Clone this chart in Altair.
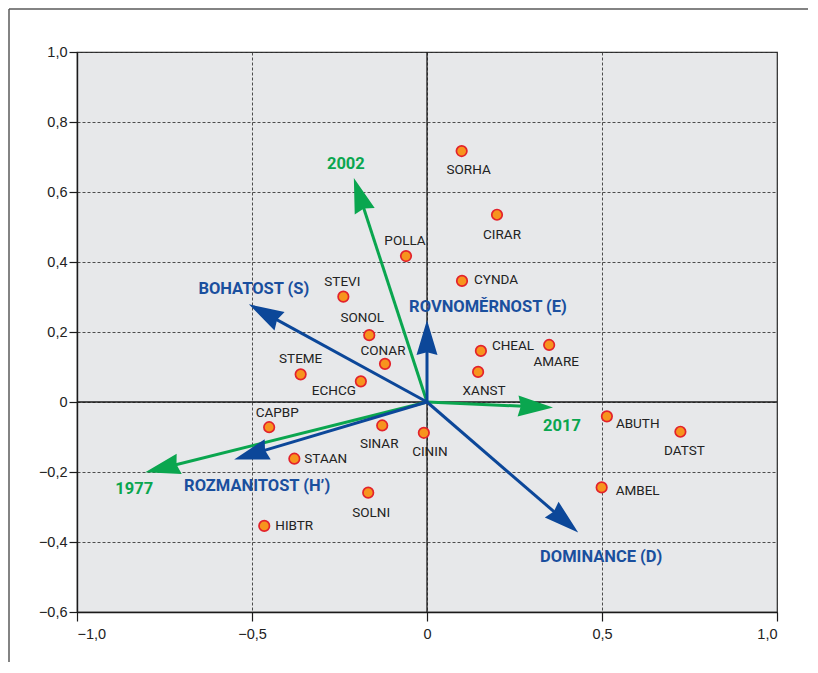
import altair as alt
import numpy as np
import pandas as pd

# ---------------- data ----------------
species = ["SORHA", "CIRAR", "POLLA", "CYNDA", "STEVI", "SONOL", "CONAR",
           "CHEAL", "AMARE", "STEME", "ECHCG", "XANST", "CAPBP", "SINAR",
           "CININ", "STAAN", "SOLNI", "HIBTR", "ABUTH", "DATST", "AMBEL"]
sp_x = [0.099, 0.200, -0.060, 0.100, -0.239, -0.165, -0.120,
        0.154, 0.349, -0.361, -0.189, 0.146, -0.451, -0.128,
        -0.009, -0.379, -0.168, -0.465, 0.514, 0.724, 0.499]
sp_y = [0.717, 0.535, 0.417, 0.346, 0.301, 0.191, 0.109,
        0.146, 0.163, 0.079, 0.059, 0.086, -0.072, -0.067,
        -0.088, -0.162, -0.259, -0.354, -0.041, -0.085, -0.244]

vec_names = ["2002", "1977", "2017", "BOHATOST (S)", "ROVNOMĚRNOST (E)",
             "ROZMANITOST (H’)", "DOMINANCE (D)"]
vec_x = [-0.209, -0.805, 0.360, -0.509, 0.000, -0.551, 0.432]
vec_y = [0.640, -0.201, -0.016, 0.279, 0.234, -0.164, -0.373]
vec_group = ["year", "year", "year", "index", "index", "index", "index"]

x_ticks = [-1.0, -0.5, 0.0, 0.5, 1.0]
y_ticks = [-0.6, -0.4, -0.2, 0.0, 0.2, 0.4, 0.6, 0.8, 1.0]

# ---------------- layout / style ----------------
GREEN = "#0aa64f"
BLUE = "#0c4799"
BLUE_TXT = "#1a4f9e"
PT_FILL = "#f7941d"
PT_STROKE = "#e3222b"
NARROW = "Roboto"
REG = "Liberation Sans"
W, H = 700, 560
PX = W / 2.0  # pixels per unit

# label placement (pixel offsets from the point, alignment)
sp_label = {
    "SORHA": (7, 19, "center"), "CIRAR": (5, 20, "center"),
    "POLLA": (-1, -15, "center"), "CYNDA": (12, -1, "left"),
    "STEVI": (-1, -15, "center"), "SONOL": (-7, -17, "center"),
    "CONAR": (-2, -13, "center"), "CHEAL": (11, -5, "left"),
    "AMARE": (7, 17, "center"), "STEME": (0, -15, "center"),
    "ECHCG": (-27, 10, "center"), "XANST": (6, 19, "center"),
    "CAPBP": (8, -14, "center"), "SINAR": (-3, 19, "center"),
    "CININ": (6, 19, "center"), "STAAN": (10, 0, "left"),
    "SOLNI": (3, 20, "center"), "HIBTR": (11, 0, "left"),
    "ABUTH": (9, 8, "left"), "DATST": (4, 19, "center"),
    "AMBEL": (14, 4, "left"),
}
vec_label = {
    "2002": (-8, -14), "1977": (-11, 17), "2017": (9, 18),
    "BOHATOST (S)": (5, -15), "ROVNOMĚRNOST (E)": (61, -13),
    "ROZMANITOST (H’)": (23, 27), "DOMINANCE (D)": (23, 24),
}

# ---------------- tables ----------------
pts = pd.DataFrame({"name": species, "x": sp_x, "y": sp_y})

vx = np.array(vec_x)
vy = np.array(vec_y)
length_px = np.hypot(vx, vy) * PX
shrink = 1 - 14.0 / length_px
vec = pd.DataFrame({
    "name": vec_names,
    "x": vx, "y": vy,
    "x0": np.zeros(len(vx)), "y0": np.zeros(len(vx)),
    "xe": vx * shrink, "ye": vy * shrink,
    "ang": (np.degrees(np.arctan2(vx, vy)) + 360) % 360,
    "col": [GREEN if g == "year" else BLUE for g in vec_group],
    "tcol": [GREEN if g == "year" else BLUE_TXT for g in vec_group],
})

xscale = alt.Scale(domain=[-1, 1], nice=False, zero=False)
yscale = alt.Scale(domain=[-0.6, 1.0], nice=False, zero=False)

label_expr = "datum.value == 0 ? '0' : replace(format(datum.value, '.1f'), '.', ',')"
xaxis = alt.Axis(values=x_ticks, labelExpr=label_expr, title="", grid=True,
                 tickSize=9, labelPadding=6, domain=True)
yaxis = alt.Axis(values=y_ticks, labelExpr=label_expr, title="", grid=True,
                 tickSize=8, labelPadding=2, domain=True)

X = alt.X("x:Q", scale=xscale, axis=xaxis)
Y = alt.Y("y:Q", scale=yscale, axis=yaxis)

base_axes = alt.Chart(pts).mark_point(opacity=0).encode(x=X, y=Y)

zero_df = pd.DataFrame({"z": [0.0]})
zero_v = alt.Chart(zero_df).mark_rule(color="#1a1a1a", strokeWidth=1.3).encode(
    x=alt.X("z:Q", scale=xscale))
zero_h = alt.Chart(zero_df).mark_rule(color="#1a1a1a", strokeWidth=1.3).encode(
    y=alt.Y("z:Q", scale=yscale))

shafts = alt.Chart(vec).mark_rule(strokeWidth=3).encode(
    x=alt.X("x0:Q", scale=xscale), y=alt.Y("y0:Q", scale=yscale),
    x2="xe:Q", y2="ye:Q",
    color=alt.Color("col:N", scale=None))

ARROW = "M0,0 L0.3,1 L0,0.92 L-0.3,1 Z"
heads = alt.Chart(vec).mark_point(shape=ARROW, filled=True, size=4900,
                                  opacity=1, strokeWidth=0).encode(
    x=alt.X("x:Q", scale=xscale), y=alt.Y("y:Q", scale=yscale),
    angle=alt.Angle("ang:Q", scale=None),
    color=alt.Color("col:N", scale=None))

dots = alt.Chart(pts).mark_point(filled=True, size=110, fill=PT_FILL,
                                 stroke=PT_STROKE, strokeWidth=1.7,
                                 opacity=1).encode(
    x=alt.X("x:Q", scale=xscale), y=alt.Y("y:Q", scale=yscale))

layers = [base_axes, zero_v, zero_h, shafts, heads, dots]

for nm, (dx, dy, al) in sp_label.items():
    layers.append(
        alt.Chart(pts).transform_filter(alt.datum.name == nm).mark_text(
            dx=dx, dy=dy, align=al, baseline="middle", font=NARROW,
            fontSize=13.5, color="#222222").encode(
            x=alt.X("x:Q", scale=xscale), y=alt.Y("y:Q", scale=yscale),
            text="name:N"))

for nm, (dx, dy) in vec_label.items():
    layers.append(
        alt.Chart(vec).transform_filter(alt.datum.name == nm).mark_text(
            dx=dx, dy=dy, align="center", baseline="middle", font=NARROW,
            fontSize=16.5, fontWeight="bold").encode(
            x=alt.X("x:Q", scale=xscale), y=alt.Y("y:Q", scale=yscale),
            text="name:N", color=alt.Color("tcol:N", scale=None)))

# outer frame of the figure
frame_df = pd.DataFrame({"a": [0]})
frame_left = alt.Chart(frame_df).mark_rule(color="#5a5a5a", strokeWidth=1.5).encode(
    x=alt.value(-68), y=alt.value(-43), y2=alt.value(H + 60))
frame_top = alt.Chart(frame_df).mark_rule(color="#5a5a5a", strokeWidth=1.5).encode(
    x=alt.value(-68), x2=alt.value(W + 40), y=alt.value(-43))
layers += [frame_left, frame_top]

chart = alt.layer(*layers).properties(
    width=W, height=H,
    autosize=alt.AutoSizeParams(type="none"),
    padding={"left": 69, "top": 44, "right": 31, "bottom": 50},
    background="white",
).configure_view(
    fill="#e7e8ea", stroke="#2a2a2a", strokeWidth=1.2
).configure_axis(
    gridColor="#3a3a3a", gridDash=[3, 2], gridWidth=0.9, gridOpacity=1,
    domainColor="#1a1a1a", domainWidth=1.4,
    tickColor="#1a1a1a", tickWidth=1.2,
    labelFont=REG, labelFontSize=14.5,
    labelColor="#222222",
)

chart.save("out.html", embed_options={"renderer": "svg", "actions": False})
